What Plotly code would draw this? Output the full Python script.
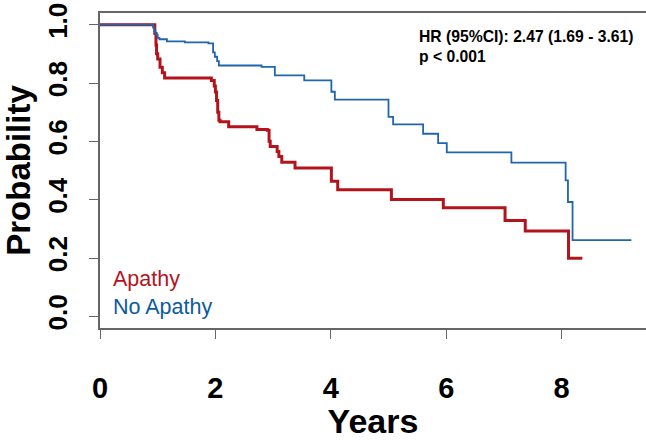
import plotly.graph_objects as go

# ---- data ----
apathy_years = [0, 0.95, 0.97, 0.98, 1.00, 1.04, 1.08, 1.12, 1.93, 1.98, 2.00, 2.02, 2.04, 2.06, 2.08,
                2.23, 2.72, 2.90, 2.93, 2.95, 3.07, 3.10, 3.15, 3.38, 4.01, 4.12, 5.05, 5.95,
                7.02, 7.37, 8.12, 8.36]
apathy_surv = [1.0, 0.97, 0.93, 0.90, 0.882, 0.854, 0.835, 0.817, 0.809, 0.79, 0.769, 0.74, 0.70, 0.672, 0.667,
               0.65, 0.641, 0.638, 0.60, 0.582, 0.565, 0.548, 0.528, 0.509, 0.463, 0.434, 0.401, 0.372,
               0.329, 0.293, 0.199, 0.199]

noapathy_years = [0, 0.92, 0.94, 0.96, 0.98, 1.00, 1.03, 1.16, 1.47, 1.88, 1.96, 1.99, 2.03, 2.06,
                  2.80, 3.03, 3.54, 4.01, 4.07, 5.00, 5.08, 5.60, 5.86, 6.01, 7.13, 8.07, 8.11, 8.19, 9.21]
noapathy_surv = [1.0, 0.99, 0.98, 0.97, 0.965, 0.955, 0.95, 0.943, 0.939, 0.936, 0.905, 0.89, 0.875, 0.86,
                 0.855, 0.826, 0.809, 0.77, 0.743, 0.684, 0.658, 0.626, 0.594, 0.562, 0.527, 0.466, 0.392, 0.261, 0.261]

x_ticks = [0, 2, 4, 6, 8]
y_ticks = [0.0, 0.2, 0.4, 0.6, 0.8, 1.0]
y_tick_labels = ["0.0", "0.2", "0.4", "0.6", "0.8", "1.0"]

group_names = ["Apathy", "No Apathy"]
hr_text = "HR (95%CI): 2.47 (1.69 - 3.61)"
p_text = "p < 0.001"

RED = "#b3141c"
BLUE = "#1f66ac"
BLUE_TXT = "#0d5b9c"
AXIS = "#666666"
FONT = "Liberation Sans, Arial, sans-serif"

W, H = 646, 440
ML, MR, MT, MB = 100, 0, 13, 109
PW, PH = W - ML - MR, H - MT - MB


def px_x(px):
    return (px - ML) / PW


def px_y(py):
    return 1 - (py - MT) / PH


fig = go.Figure()
fig.add_trace(go.Scatter(x=apathy_years, y=apathy_surv, mode="lines", line_shape="hv",
                         line=dict(color=RED, width=3), name=group_names[0], showlegend=False))
fig.add_trace(go.Scatter(x=noapathy_years, y=noapathy_surv, mode="lines", line_shape="hv",
                         line=dict(color=BLUE, width=1.8), name=group_names[1], showlegend=False))

fig.update_layout(
    width=W, height=H,
    margin=dict(l=ML, r=MR, t=MT, b=MB),
    paper_bgcolor="white", plot_bgcolor="white",
    xaxis=dict(range=[0, PW / 57.7], tickvals=x_ticks, ticktext=[str(v) for v in x_ticks],
               showgrid=False, zeroline=False, showline=True, linecolor=AXIS, linewidth=1.5, mirror=True,
               ticks="outside", ticklen=9, tickwidth=1.3, tickcolor=AXIS, ticklabelstandoff=24,
               tickfont=dict(family=FONT, size=29, color="black", weight=700),
               title=dict(text="Years", font=dict(family=FONT, size=34, color="black", weight=700),
                          standoff=13)),
    yaxis=dict(range=[-0.04, 1.04], tickvals=y_ticks, ticktext=y_tick_labels, tickangle=-90,
               showgrid=False, zeroline=False, showline=True, linecolor=AXIS, linewidth=1.5, mirror=False,
               ticks="outside", ticklen=9, tickwidth=1.3, tickcolor=AXIS, ticklabelstandoff=12,
               tickfont=dict(family=FONT, size=26, color="black", weight=700),
               title=dict(text="Probability", font=dict(family=FONT, size=33, color="black", weight=700),
                          standoff=5)),
    font=dict(family=FONT),
)

fig.add_annotation(xref="paper", yref="paper", x=px_x(417), y=px_y(47), xanchor="left", yanchor="middle",
                   text=hr_text + "<br>" + p_text, showarrow=False, align="left",
                   font=dict(family=FONT, size=15.7, color="black", weight=700))
fig.add_annotation(xref="paper", yref="paper", x=px_x(111), y=px_y(296), xanchor="left", yanchor="middle",
                   text=(f"<span style='color:{RED}'>{group_names[0]}</span><br>"
                         f"<span style='color:{BLUE_TXT}'>{group_names[1]}</span>"),
                   showarrow=False, align="left",
                   font=dict(family=FONT, size=21.5))

fig.write_html("out.html")
